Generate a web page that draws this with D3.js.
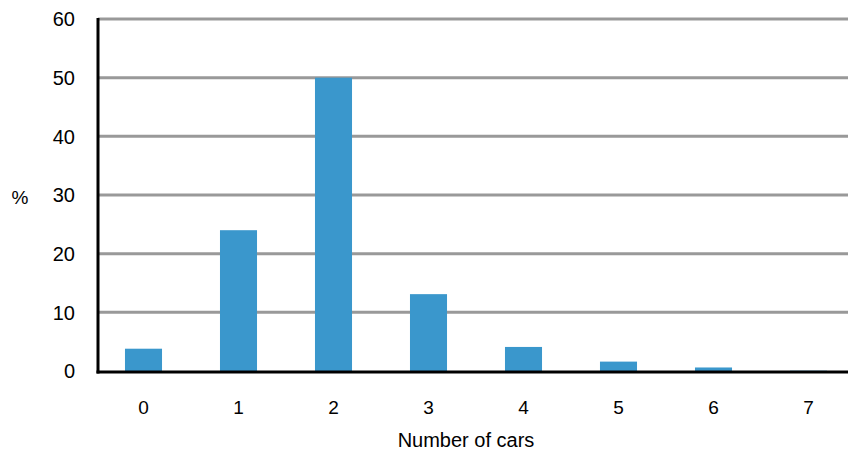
<!DOCTYPE html>
<html><head><meta charset="utf-8">
<script src="https://cdn.jsdelivr.net/npm/d3@7"></script>
<style>body{margin:0;background:#fff}svg{display:block}text{font-family:"Liberation Sans",Arial,sans-serif;fill:#000}</style>
</head><body><svg id="c" width="848" height="450"></svg>
<script>
const categories = ["0","1","2","3","4","5","6","7"];
const values = [3.8, 24.0, 50.0, 13.1, 4.1, 1.6, 0.6, 0.05];
const yTicks = [0,10,20,30,40,50,60];
const xTitle = "Number of cars";
const yTitle = "%";

const svg = d3.select("#c");
const L = 98, R = 848, T = 19, B = 371;
const x = d3.scaleBand().domain(categories).range([96, 856]).paddingInner(0.61).paddingOuter(0.305);
const y = d3.scaleLinear().domain([0, 60]).range([B, T]);

// gridlines
svg.append("g").selectAll("line").data(yTicks.filter(d => d > 0)).join("line")
  .attr("x1", L).attr("x2", R).attr("y1", d => y(d)).attr("y2", d => y(d))
  .attr("stroke", "#999").attr("stroke-width", 3);

// bars
svg.append("g").selectAll("rect").data(values).join("rect")
  .attr("x", (d, i) => x(categories[i])).attr("width", x.bandwidth())
  .attr("y", d => y(d)).attr("height", d => B - y(d))
  .attr("fill", "#3a97cc");

// axes lines
svg.append("line").attr("x1", L).attr("x2", L).attr("y1", T - 1).attr("y2", B + 2.5)
  .attr("stroke", "#000").attr("stroke-width", 3);
svg.append("line").attr("x1", L - 1.5).attr("x2", R).attr("y1", B + 1).attr("y2", B + 1)
  .attr("stroke", "#000").attr("stroke-width", 3);

// y tick labels
svg.append("g").selectAll("text").data(yTicks).join("text")
  .attr("x", 75).attr("y", d => y(d)).attr("dy", "0.36em")
  .attr("text-anchor", "end").attr("font-size", 20).text(d => d);

// x tick labels
svg.append("g").selectAll("text").data(categories).join("text")
  .attr("x", d => x(d) + x.bandwidth() / 2).attr("y", 414)
  .attr("text-anchor", "middle").attr("font-size", 19).text(d => d);

svg.append("text").attr("x", 466).attr("y", 447).attr("text-anchor", "middle")
  .attr("font-size", 20).text(xTitle);
svg.append("text").attr("x", 20).attr("y", 204).attr("text-anchor", "middle")
  .attr("font-size", 19).text(yTitle);
</script></body></html>
